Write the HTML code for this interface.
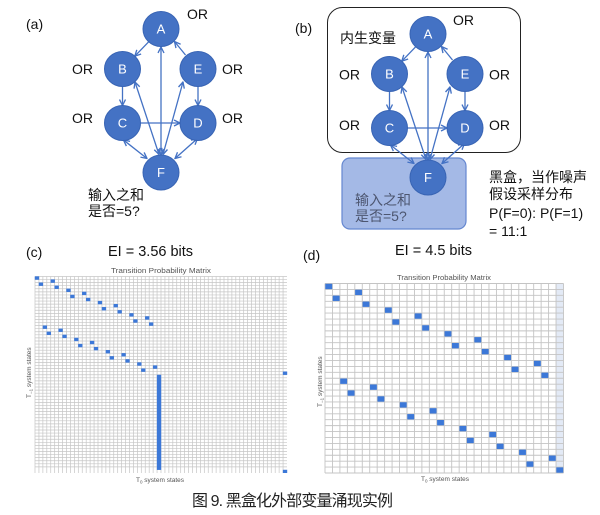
<!DOCTYPE html>
<html>
<head>
<meta charset="utf-8">
<style>
  html,body{margin:0;padding:0;background:#fff;}
  svg{display:block;}
  text{font-family:"Liberation Sans","Noto Sans CJK SC",sans-serif;}
</style>
</head>
<body>
<svg width="600" height="515" viewBox="0 0 600 515" xmlns="http://www.w3.org/2000/svg">
  <defs>
    <marker id="ah" viewBox="0 0 10 10" refX="9" refY="5" markerWidth="7.5" markerHeight="7.5" markerUnits="userSpaceOnUse" orient="auto-start-reverse">
      <path d="M1,1 L9,5 L1,9" fill="none" stroke="#4472C4" stroke-width="1.8"/>
    </marker>
  </defs>
  <rect x="0" y="0" width="600" height="515" fill="#fff"/>

  <!-- ===== (a) ===== -->
  <text x="26" y="29" font-size="14" fill="#111">(a)</text>
  <g id="graphA">
    <g stroke="#4472C4" stroke-width="1.3" fill="none">
      <path d="M148.9,41.6 L134.8,56.2" marker-end="url(#ah)"/>
      <path d="M185.5,55 L174.5,41.5" marker-end="url(#ah)"/>
      <path d="M122.5,86.5 L122.5,105.5" marker-end="url(#ah)"/>
      <path d="M198,86.5 L198,105.5" marker-end="url(#ah)"/>
      <path d="M140.5,123 L180,123" marker-end="url(#ah)"/>
      <path d="M161,47 L161,155" marker-start="url(#ah)" marker-end="url(#ah)"/>
      <path d="M135,82 L159,154.5" marker-start="url(#ah)" marker-end="url(#ah)"/>
      <path d="M183,82 L163,154.5" marker-start="url(#ah)" marker-end="url(#ah)"/>
      <path d="M123.5,140 L147,158.5" marker-start="url(#ah)" marker-end="url(#ah)"/>
      <path d="M197.5,138.5 L175,158.5" marker-start="url(#ah)" marker-end="url(#ah)"/>
    </g>
    <g fill="#4472C4" stroke="#3864b4" stroke-width="1">
      <ellipse cx="161" cy="29" rx="18" ry="17.5"/>
      <ellipse cx="122.5" cy="69" rx="18" ry="17.5"/>
      <ellipse cx="198" cy="69" rx="18" ry="17.5"/>
      <ellipse cx="122.5" cy="123" rx="18" ry="17.5"/>
      <ellipse cx="198" cy="123" rx="18" ry="17.5"/>
      <ellipse cx="161" cy="172.5" rx="18" ry="17.5"/>
    </g>
    <g fill="#fff" font-size="13" text-anchor="middle">
      <text x="161" y="33.5">A</text>
      <text x="122.5" y="73.5">B</text>
      <text x="198" y="73.5">E</text>
      <text x="122.5" y="127.5">C</text>
      <text x="198" y="127.5">D</text>
      <text x="161" y="177">F</text>
    </g>
  </g>
  <g font-size="14" fill="#111">
    <text x="187" y="19">OR</text>
    <text x="72" y="74">OR</text>
    <text x="222" y="74">OR</text>
    <text x="72" y="123">OR</text>
    <text x="222" y="123">OR</text>
    <text x="88" y="200">输入之和</text>
    <text x="88" y="216">是否=5?</text>
  </g>

  <!-- ===== (b) ===== -->
  <text x="295" y="33" font-size="14" fill="#111">(b)</text>
  <rect x="327.5" y="7.5" width="193" height="145" rx="15" ry="15" fill="#fff" stroke="#222" stroke-width="1"/>
  <rect x="342" y="158" width="124" height="71" rx="8" ry="8" fill="#a4b9e6" stroke="#6587d0" stroke-width="1.2"/>
  <text x="340" y="43" font-size="14" fill="#111">内生变量</text>
  <g transform="translate(267,5)">
    <g stroke="#4472C4" stroke-width="1.3" fill="none">
      <path d="M148.9,41.6 L134.8,56.2" marker-end="url(#ah)"/>
      <path d="M185.5,55 L174.5,41.5" marker-end="url(#ah)"/>
      <path d="M122.5,86.5 L122.5,105.5" marker-end="url(#ah)"/>
      <path d="M198,86.5 L198,105.5" marker-end="url(#ah)"/>
      <path d="M140.5,123 L180,123" marker-end="url(#ah)"/>
      <path d="M161,47 L161,155" marker-start="url(#ah)" marker-end="url(#ah)"/>
      <path d="M135,82 L159,154.5" marker-start="url(#ah)" marker-end="url(#ah)"/>
      <path d="M183,82 L163,154.5" marker-start="url(#ah)" marker-end="url(#ah)"/>
      <path d="M123.5,140 L147,158.5" marker-start="url(#ah)" marker-end="url(#ah)"/>
      <path d="M197.5,138.5 L175,158.5" marker-start="url(#ah)" marker-end="url(#ah)"/>
    </g>
    <g fill="#4472C4" stroke="#3864b4" stroke-width="1">
      <ellipse cx="161" cy="29" rx="18" ry="17.5"/>
      <ellipse cx="122.5" cy="69" rx="18" ry="17.5"/>
      <ellipse cx="198" cy="69" rx="18" ry="17.5"/>
      <ellipse cx="122.5" cy="123" rx="18" ry="17.5"/>
      <ellipse cx="198" cy="123" rx="18" ry="17.5"/>
      <ellipse cx="161" cy="172.5" rx="18" ry="17.5"/>
    </g>
    <g fill="#fff" font-size="13" text-anchor="middle">
      <text x="161" y="33.5">A</text>
      <text x="122.5" y="73.5">B</text>
      <text x="198" y="73.5">E</text>
      <text x="122.5" y="127.5">C</text>
      <text x="198" y="127.5">D</text>
      <text x="161" y="177">F</text>
    </g>
  </g>
  <g font-size="14" fill="#111">
    <text x="453" y="25">OR</text>
    <text x="339" y="79.5">OR</text>
    <text x="489" y="79.5">OR</text>
    <text x="339" y="130">OR</text>
    <text x="489" y="130">OR</text>
  </g>
  <g font-size="14" fill="#4d5670">
    <text x="355" y="205">输入之和</text>
    <text x="355" y="221">是否=5?</text>
  </g>
  <g font-size="14" fill="#111">
    <text x="489" y="182">黑盒，当作噪声</text>
    <text x="489" y="199">假设采样分布</text>
    <text x="489" y="218">P(F=0): P(F=1)</text>
    <text x="489" y="236">= 11:1</text>
  </g>

  <!-- ===== (c) ===== -->
  <text x="26" y="257" font-size="14" fill="#111">(c)</text>
  <text x="108" y="256" font-size="14.5" fill="#111">EI = 3.56 bits</text>
  <text x="111" y="273" font-size="7" fill="#555" textLength="100" lengthAdjust="spacingAndGlyphs">Transition Probability Matrix</text>
  <text x="136" y="482" font-size="6.5" fill="#555">T<tspan font-size="4.5" dy="1.5">0</tspan><tspan dy="-1.5"> system states</tspan></text>
  <text transform="translate(31,398) rotate(-90)" font-size="6.5" fill="#555">T<tspan font-size="4.5" dy="1.5">−1</tspan><tspan dy="-1.5"> system states</tspan></text>
  <g transform="translate(35,276.5) scale(3.9375,3.0703)">
    <rect x="0" y="0" width="64" height="64" fill="#fff"/>
    <path fill="none" stroke="#c6c6c6" stroke-width="0.7" vector-effect="non-scaling-stroke"
      d="M0 0v64m1-64v64m1-64v64m1-64v64m1-64v64m1-64v64m1-64v64m1-64v64m1-64v64m1-64v64m1-64v64m1-64v64m1-64v64m1-64v64m1-64v64m1-64v64m1-64v64m1-64v64m1-64v64m1-64v64m1-64v64m1-64v64m1-64v64m1-64v64m1-64v64m1-64v64m1-64v64m1-64v64m1-64v64m1-64v64m1-64v64m1-64v64m1-64v64m1-64v64m1-64v64m1-64v64m1-64v64m1-64v64m1-64v64m1-64v64m1-64v64m1-64v64m1-64v64m1-64v64m1-64v64m1-64v64m1-64v64m1-64v64m1-64v64m1-64v64m1-64v64m1-64v64m1-64v64m1-64v64m1-64v64m1-64v64m1-64v64m1-64v64m1-64v64m1-64v64m1-64v64m1-64v64m1-64v64m1-64v64
         M0 0h64m-64 1h64m-64 1h64m-64 1h64m-64 1h64m-64 1h64m-64 1h64m-64 1h64m-64 1h64m-64 1h64m-64 1h64m-64 1h64m-64 1h64m-64 1h64m-64 1h64m-64 1h64m-64 1h64m-64 1h64m-64 1h64m-64 1h64m-64 1h64m-64 1h64m-64 1h64m-64 1h64m-64 1h64m-64 1h64m-64 1h64m-64 1h64m-64 1h64m-64 1h64m-64 1h64m-64 1h64m-64 1h64m-64 1h64m-64 1h64m-64 1h64m-64 1h64m-64 1h64m-64 1h64m-64 1h64m-64 1h64m-64 1h64m-64 1h64m-64 1h64m-64 1h64m-64 1h64m-64 1h64m-64 1h64m-64 1h64m-64 1h64m-64 1h64m-64 1h64m-64 1h64m-64 1h64m-64 1h64m-64 1h64m-64 1h64m-64 1h64m-64 1h64m-64 1h64m-64 1h64m-64 1h64m-64 1h64"/>
    <g fill="#3c78d8">
      <rect x="-0.05" y="-0.05" width="1.1" height="1.1"/>
      <rect x="3.95" y="0.95" width="1.1" height="1.1"/>
      <rect x="0.95" y="1.95" width="1.1" height="1.1"/>
      <rect x="4.95" y="2.95" width="1.1" height="1.1"/>
      <rect x="7.95" y="3.95" width="1.1" height="1.1"/>
      <rect x="11.95" y="4.95" width="1.1" height="1.1"/>
      <rect x="8.95" y="5.95" width="1.1" height="1.1"/>
      <rect x="12.95" y="6.95" width="1.1" height="1.1"/>
      <rect x="15.95" y="7.95" width="1.1" height="1.1"/>
      <rect x="19.95" y="8.95" width="1.1" height="1.1"/>
      <rect x="16.95" y="9.95" width="1.1" height="1.1"/>
      <rect x="20.95" y="10.95" width="1.1" height="1.1"/>
      <rect x="23.95" y="11.95" width="1.1" height="1.1"/>
      <rect x="27.95" y="12.95" width="1.1" height="1.1"/>
      <rect x="24.95" y="13.95" width="1.1" height="1.1"/>
      <rect x="28.95" y="14.95" width="1.1" height="1.1"/>
      <rect x="1.95" y="15.95" width="1.1" height="1.1"/>
      <rect x="5.95" y="16.95" width="1.1" height="1.1"/>
      <rect x="2.95" y="17.95" width="1.1" height="1.1"/>
      <rect x="6.95" y="18.95" width="1.1" height="1.1"/>
      <rect x="9.95" y="19.95" width="1.1" height="1.1"/>
      <rect x="13.95" y="20.95" width="1.1" height="1.1"/>
      <rect x="10.95" y="21.95" width="1.1" height="1.1"/>
      <rect x="14.95" y="22.95" width="1.1" height="1.1"/>
      <rect x="17.95" y="23.95" width="1.1" height="1.1"/>
      <rect x="21.95" y="24.95" width="1.1" height="1.1"/>
      <rect x="18.95" y="25.95" width="1.1" height="1.1"/>
      <rect x="22.95" y="26.95" width="1.1" height="1.1"/>
      <rect x="25.95" y="27.95" width="1.1" height="1.1"/>
      <rect x="29.95" y="28.95" width="1.1" height="1.1"/>
      <rect x="26.95" y="29.95" width="1.1" height="1.1"/>
      <rect x="62.95" y="30.95" width="1.1" height="1.1"/>
      <rect x="30.95" y="32" width="1.1" height="31"/>
      <rect x="62.95" y="62.95" width="1.1" height="1.05"/>
    </g>
  </g>

  <!-- ===== (d) ===== -->
  <text x="303" y="260" font-size="14" fill="#111">(d)</text>
  <text x="395" y="255" font-size="14.5" fill="#111">EI = 4.5 bits</text>
  <text x="397" y="280" font-size="7" fill="#555" textLength="94" lengthAdjust="spacingAndGlyphs">Transition Probability Matrix</text>
  <text x="421" y="481" font-size="6.5" fill="#555">T<tspan font-size="4.5" dy="1.5">0</tspan><tspan dy="-1.5"> system states</tspan></text>
  <text transform="translate(322,407) rotate(-90)" font-size="6.5" fill="#555">T<tspan font-size="4.5" dy="1.5">−1</tspan><tspan dy="-1.5"> system states</tspan></text>
  <g transform="translate(325,283.5) scale(7.453,5.922)">
    <rect x="0" y="0" width="32" height="32" fill="#fff"/>
    <rect x="31" y="0" width="1" height="32" fill="#e3eaf6"/>
    <path fill="none" stroke="#c4c4c4" stroke-width="0.9" vector-effect="non-scaling-stroke"
      d="M0 0v32m1-32v32m1-32v32m1-32v32m1-32v32m1-32v32m1-32v32m1-32v32m1-32v32m1-32v32m1-32v32m1-32v32m1-32v32m1-32v32m1-32v32m1-32v32m1-32v32m1-32v32m1-32v32m1-32v32m1-32v32m1-32v32m1-32v32m1-32v32m1-32v32m1-32v32m1-32v32m1-32v32m1-32v32m1-32v32m1-32v32m1-32v32m1-32v32
         M0 0h32m-32 1h32m-32 1h32m-32 1h32m-32 1h32m-32 1h32m-32 1h32m-32 1h32m-32 1h32m-32 1h32m-32 1h32m-32 1h32m-32 1h32m-32 1h32m-32 1h32m-32 1h32m-32 1h32m-32 1h32m-32 1h32m-32 1h32m-32 1h32m-32 1h32m-32 1h32m-32 1h32m-32 1h32m-32 1h32m-32 1h32m-32 1h32m-32 1h32m-32 1h32m-32 1h32m-32 1h32m-32 1h32"/>
    <g fill="#3c78d8">
      <rect x="0.04" y="0.05" width="0.92" height="0.9"/>
      <rect x="4.04" y="1.05" width="0.92" height="0.9"/>
      <rect x="1.04" y="2.05" width="0.92" height="0.9"/>
      <rect x="5.04" y="3.05" width="0.92" height="0.9"/>
      <rect x="8.04" y="4.05" width="0.92" height="0.9"/>
      <rect x="12.04" y="5.05" width="0.92" height="0.9"/>
      <rect x="9.04" y="6.05" width="0.92" height="0.9"/>
      <rect x="13.04" y="7.05" width="0.92" height="0.9"/>
      <rect x="16.04" y="8.05" width="0.92" height="0.9"/>
      <rect x="20.04" y="9.05" width="0.92" height="0.9"/>
      <rect x="17.04" y="10.05" width="0.92" height="0.9"/>
      <rect x="21.04" y="11.05" width="0.92" height="0.9"/>
      <rect x="24.04" y="12.05" width="0.92" height="0.9"/>
      <rect x="28.04" y="13.05" width="0.92" height="0.9"/>
      <rect x="25.04" y="14.05" width="0.92" height="0.9"/>
      <rect x="29.04" y="15.05" width="0.92" height="0.9"/>
      <rect x="2.04" y="16.05" width="0.92" height="0.9"/>
      <rect x="6.04" y="17.05" width="0.92" height="0.9"/>
      <rect x="3.04" y="18.05" width="0.92" height="0.9"/>
      <rect x="7.04" y="19.05" width="0.92" height="0.9"/>
      <rect x="10.04" y="20.05" width="0.92" height="0.9"/>
      <rect x="14.04" y="21.05" width="0.92" height="0.9"/>
      <rect x="11.04" y="22.05" width="0.92" height="0.9"/>
      <rect x="15.04" y="23.05" width="0.92" height="0.9"/>
      <rect x="18.04" y="24.05" width="0.92" height="0.9"/>
      <rect x="22.04" y="25.05" width="0.92" height="0.9"/>
      <rect x="19.04" y="26.05" width="0.92" height="0.9"/>
      <rect x="23.04" y="27.05" width="0.92" height="0.9"/>
      <rect x="26.04" y="28.05" width="0.92" height="0.9"/>
      <rect x="30.04" y="29.05" width="0.92" height="0.9"/>
      <rect x="27.04" y="30.05" width="0.92" height="0.9"/>
      <rect x="31.04" y="31.05" width="0.92" height="0.9"/>
    </g>
  </g>

  <!-- caption -->
  <text x="192" y="506" font-size="16" fill="#222" textLength="201" lengthAdjust="spacing">图 9. 黑盒化外部变量涌现实例</text>
</svg>
</body>
</html>
